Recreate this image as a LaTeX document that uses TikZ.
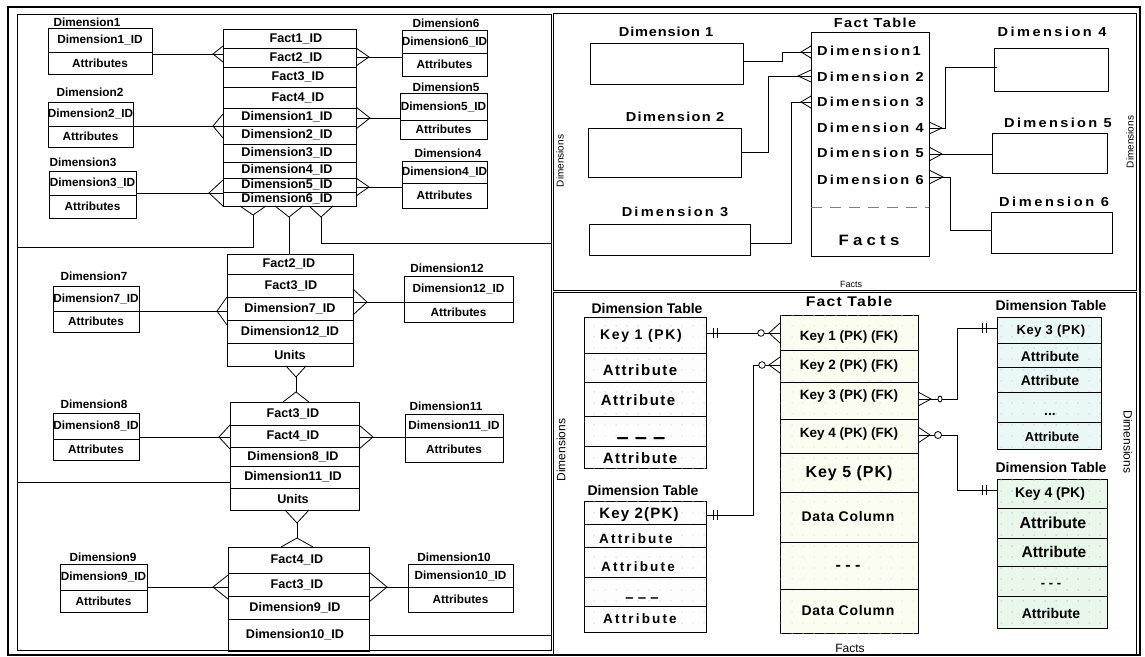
\documentclass[tikz,border=0pt]{standalone}
\usepackage{fontspec}
\setmainfont{Liberation Sans}
\newfontfamily\widesans[FakeStretch=1.12]{Liberation Sans}
\usetikzlibrary{patterns.meta}

% crow's feet: point on the box edge, depth, half spread
\newcommand\crowW[3]{\draw[ln] (#1) ++(0,-#3) -- ++(-#2,#3) -- ++(#2,#3);}
\newcommand\crowE[3]{\draw[ln] (#1) ++(0,-#3) -- ++(#2,#3) -- ++(-#2,#3);}
\newcommand\crowS[3]{\draw[ln] (#1) ++(-#3,0) -- ++(#3,#2) -- ++(#3,-#2);}
\newcommand\crowN[3]{\draw[ln] (#1) ++(-#3,0) -- ++(#3,-#2) -- ++(#3,#2);}
% one-mark: two short bars across a horizontal line
\newcommand\onemark[2]{\draw[ln] (#1,#2-5) -- (#1,#2+5) (#1+4,#2-5) -- (#1+4,#2+5);}

% dimension box of the left panel: name, x1, y1, x2, y2, divider y, key text, title, title position
\newcommand\ldim[9]{%
  \node[box, minimum width={#4-#2}, minimum height={#5-#3}] (#1) at (#2,#3) {};
  \draw[ln] (#1.west |- 0,#6) -- (#1.east |- 0,#6);
  \node[lt] (#1-id) at ({(#2+#4)/2},{(#3+#6)/2}) {#7};
  \node[lt] (#1-at) at ({(#2+#4)/2},{(#6+#5)/2}) {Attributes};
  \node[lt] (#1-t) at (#9) {#8};
}

\definecolor{dimfill}{HTML}{FDFDFD}
\definecolor{dimdot}{HTML}{D6D6D6}
\definecolor{factfill}{HTML}{FCFDF1}
\definecolor{factdot}{HTML}{DDE9B8}
\definecolor{cyanfill}{HTML}{E9F7F6}
\definecolor{cyandot}{HTML}{A9D9CF}
\definecolor{greenfill}{HTML}{E9F6EA}
\definecolor{greendot}{HTML}{93CF98}

\begin{document}
\begin{tikzpicture}[x=1pt,y=-1pt,
  ln/.style={line width=0.8pt},
  box/.style={draw, line width=0.8pt, inner sep=0pt, outer sep=0pt, anchor=north west},
  frame/.style={draw, line width=0.9pt, inner sep=0pt, outer sep=0pt, anchor=north west},
  lt/.style={font=\fontsize{11.8}{13}\selectfont\bfseries, inner sep=0pt},
  ft/.style={font=\fontsize{12.6}{13}\selectfont\bfseries, inner sep=0pt},
  tr/.style={font={\widesans\fontsize{13}{15}\selectfont\bfseries\addfontfeature{LetterSpace=#1}}, inner sep=0pt},
  br/.style={font={\fontsize{14}{16}\selectfont\bfseries\addfontfeature{LetterSpace=#1}}, inner sep=0pt},
  small/.style={font=\fontsize{#1}{#1}\selectfont, inner sep=0pt},
  dotted table/.style 2 args={box, fill=#1, postaction={pattern={Dots[distance=11pt, radius=0.75pt]}, pattern color=#2}},
]
\useasboundingbox (0,0) rectangle (1145,656);

% ---------------- frames ----------------
\draw[line width=2.2pt] (8,7) rectangle (1140,655);
\node[frame, minimum width=534, minimum height=636] (lp) at (17,14) {};
\node[frame, minimum width=583, minimum height=277] (tp) at (553,13) {};
\node[frame, minimum width=583, minimum height=362] (bp) at (553,292) {};

% ================= left panel =================
% --- section 1 ---
\node[box, minimum width=133, minimum height=177] (f1) at (223,29) {};
\foreach \ya/\yb/\xc/\txt [count=\i] in {29/48/296/Fact1\_ID, 48/67/296/Fact2\_ID, 67/87/298/Fact3\_ID, 87/108/298/Fact4\_ID,
    108/126/287/Dimension1\_ID, 126/144/287/Dimension2\_ID, 144/162/287/Dimension3\_ID,
    162/178/287/Dimension4\_ID, 178/192/287/Dimension5\_ID, 192/206/287/Dimension6\_ID} {
  \draw[ln] (f1.west |- 0,\yb) -- (f1.east |- 0,\yb);
  \node[ft] (f1-\i) at (\xc,{(\ya+\yb)/2}) {\txt};
}
\ldim{d1}{48}{28}{152}{74}{52}{Dimension1\_ID}{Dimension1}{87,22}
\ldim{d2}{48}{102}{133}{147}{126}{Dimension2\_ID}{Dimension2}{90,92}
\ldim{d3}{49}{171}{136}{218}{195}{Dimension3\_ID}{Dimension3}{83,162}
\ldim{d6}{402}{30}{487}{76}{53}{Dimension6\_ID}{Dimension6}{446,23}
\ldim{d5}{400}{93}{487}{139}{120}{Dimension5\_ID}{Dimension5}{446,87}
\ldim{d4}{402}{161}{487}{208}{183}{Dimension4\_ID}{Dimension4}{448,153}

\draw[ln] (d1.east |- 0,54) -- (f1.west |- 0,54);   \crowW{f1.west |- 0,54}{10}{8}
\draw[ln] (d2.east |- 0,126) -- (f1.west |- 0,126); \crowW{f1.west |- 0,126}{10}{12}
\draw[ln] (d3.east |- 0,193) -- (f1.west |- 0,193); \crowW{f1.west |- 0,193}{14}{13}
\draw[ln] (f1.east |- 0,57) -- (d6.west |- 0,57);   \crowE{f1.east |- 0,57}{13}{9}
\draw[ln] (f1.east |- 0,118) -- (d5.west |- 0,118); \crowE{f1.east |- 0,118}{14}{11}
\draw[ln] (f1.east |- 0,187) -- (d4.west |- 0,187); \crowE{f1.east |- 0,187}{13}{9}

% links below the first fact table
\crowS{f1.south -| 253,0}{9}{13}
\draw[ln] (253,215) -- (253,247) -- (lp.west |- 0,247);
\crowS{f1.south -| 289,0}{11}{14}
\crowS{f1.south -| 321,0}{11}{12}
\draw[ln] (321,217) -- (321,243) -- (lp.east |- 0,243);

% --- section 2 ---
\node[box, minimum width=126, minimum height=112] (f2) at (227,254) {};
\foreach \ya/\yb/\xc/\txt [count=\i] in {254/274/289/Fact2\_ID, 274/297/291/Fact3\_ID, 297/320/290/Dimension7\_ID,
    320/343/290/Dimension12\_ID, 343/366/290/Units} {
  \draw[ln] (f2.west |- 0,\yb) -- (f2.east |- 0,\yb);
  \node[ft] (f2-\i) at (\xc,{(\ya+\yb)/2}) {\txt};
}
\draw[ln] (289,217) -- (f2.north -| 289,0);
\ldim{d7}{53}{286}{139}{332}{311}{Dimension7\_ID}{Dimension7}{94,276}
\ldim{d12}{404}{276}{513}{322}{302}{Dimension12\_ID}{Dimension12}{447,268}
\draw[ln] (d7.east |- 0,311) -- (f2.west |- 0,311);  \crowW{f2.west |- 0,311}{10}{14}
\draw[ln] (f2.east |- 0,302) -- (d12.west |- 0,302); \crowE{f2.east |- 0,302}{14}{13}

% --- section 3 ---
\node[box, minimum width=129, minimum height=108] (f3) at (230,402) {};
\foreach \ya/\yb/\xc/\txt [count=\i] in {402/425/293/Fact3\_ID, 425/447/293/Fact4\_ID, 447/466/293/Dimension8\_ID,
    466/488/293/Dimension11\_ID, 488/510/293/Units} {
  \draw[ln] (f3.west |- 0,\yb) -- (f3.east |- 0,\yb);
  \node[ft] (f3-\i) at (\xc,{(\ya+\yb)/2}) {\txt};
}
\crowS{f2.south -| 296,0}{11}{10}
\crowN{f3.north -| 296,0}{10}{13}
\draw[ln] (296,377) -- (296,392);
\draw[ln] (lp.west |- 0,482) -- (f3.west |- 0,482);
\ldim{d8}{53}{413}{139}{460}{439}{Dimension8\_ID}{Dimension8}{94,404}
\ldim{d11}{405}{414}{503}{462}{437}{Dimension11\_ID}{Dimension11}{446,406}
\draw[ln] (d8.east |- 0,437) -- (f3.west |- 0,437);  \crowW{f3.west |- 0,437}{11}{12}
\draw[ln] (f3.east |- 0,437) -- (d11.west |- 0,437); \crowE{f3.east |- 0,437}{14}{12}

% --- section 4 ---
\node[box, minimum width=141, minimum height=104] (f4) at (228,547) {};
\foreach \ya/\yb/\xc/\txt [count=\i] in {547/573/297/Fact4\_ID, 573/596/297/Fact3\_ID, 596/619/295/Dimension9\_ID,
    619/651/295/Dimension10\_ID} {
  \draw[ln] (f4.west |- 0,\yb) -- (f4.east |- 0,\yb);
  \node[ft] (f4-\i) at (\xc,{(\ya+\yb)/2}) {\txt};
}
\crowS{f3.south -| 297,0}{13}{12}
\crowN{f4.north -| 297,0}{9}{16}
\draw[ln] (297,523) -- (297,538);
\ldim{d9}{60}{564}{147}{612}{590}{Dimension9\_ID}{Dimension9}{103,557}
\ldim{d10}{408}{564}{513}{612}{587}{Dimension10\_ID}{Dimension10}{454,557}
\draw[ln] (d9.east |- 0,587) -- (f4.west |- 0,587);   \crowW{f4.west |- 0,587}{15}{12}
\draw[ln] (f4.east |- 0,587) -- (d10.west |- 0,587);  \crowE{f4.east |- 0,587}{18}{15}
\draw[ln] (f4.east |- 0,635) -- (lp.east |- 0,635);

% ================= top right panel =================
\node[tr=11] (tft) at (875,23) {Fact Table};
\node[box, minimum width=118, minimum height=224] (tf) at (811,32) {};
\node[tr=18, anchor=west] (tr1) at (817,51) {Dimension1};
\node[tr=17, anchor=west] (tr2) at (817,77) {Dimension 2};
\node[tr=17, anchor=west] (tr3) at (817,102) {Dimension 3};
\node[tr=17, anchor=west] (tr4) at (817,128) {Dimension 4};
\node[tr=17, anchor=west] (tr5) at (817,153) {Dimension 5};
\node[tr=17, anchor=west] (tr6) at (817,180) {Dimension 6};
\draw[gray, line width=0.8pt, dash pattern=on 11pt off 8pt] (tf.west |- 0,207) -- (tf.east |- 0,207);
\node[font={\widesans\fontsize{15}{17}\selectfont\bfseries\addfontfeature{LetterSpace=28}}, inner sep=0pt] (tfacts) at (869,240) {Facts};

\node[tr=6.5] (t1) at (666,32) {Dimension 1};
\node[box, minimum width=153, minimum height=41] (td1) at (590,43) {};
\node[tr=10] (t2) at (675,117) {Dimension 2};
\node[box, minimum width=153, minimum height=49] (td2) at (588,128) {};
\node[tr=17] (t3) at (675,212) {Dimension 3};
\node[box, minimum width=161, minimum height=31] (td3) at (589,224) {};
\node[tr=19] (t4) at (1052,32) {Dimension 4};
\node[box, minimum width=114, minimum height=43] (td4) at (994,48) {};
\node[tr=18] (t5) at (1058,123) {Dimension 5};
\node[box, minimum width=115, minimum height=40] (td5) at (992,133) {};
\node[tr=20] (t6) at (1054,202) {Dimension 6};
\node[box, minimum width=121, minimum height=41] (td6) at (991,212) {};

\draw[ln] (td1.east |- 0,61) -- (782,61) -- (782,52) -- (tf.west |- 0,52);   \crowW{tf.west |- 0,52}{10}{6}
\draw[ln] (td2.east |- 0,152) -- (768,152) -- (768,76) -- (tf.west |- 0,76); \crowW{tf.west |- 0,76}{13}{6}
\draw[ln] (td3.east |- 0,243) -- (791,243) -- (791,102) -- (tf.west |- 0,102); \crowW{tf.west |- 0,102}{10}{6}
\draw[ln] (tf.east |- 0,128) -- (945,128) -- (945,67) -- (997,67);  \crowE{tf.east |- 0,128}{13}{6}
\draw[ln] (tf.east |- 0,154) -- (td5.west |- 0,154);                   \crowE{tf.east |- 0,154}{13}{7}
\draw[ln] (tf.east |- 0,177) -- (950,177) -- (950,230) -- (td6.west |- 0,230); \crowE{tf.east |- 0,177}{14}{7}

\node[small=10, rotate=90] (tdl) at (560,161) {Dimensions};
\node[small=10, rotate=90] (tdr) at (1130,142) {Dimensions};
\node[small=9] (tfl) at (851,284) {Facts};

% ================= bottom right panel =================
\node[br=0] (bl1) at (647,308) {Dimension Table};
\node[dotted table={dimfill}{dimdot}, minimum width=122, minimum height=151] (dt1) at (584,317) {};
\foreach \y in {353,382,416,446} \draw[ln] (dt1.west |- 0,\y) -- (dt1.east |- 0,\y);
\node[br=12] (dt1a) at (641,336) {Key 1 (PK)};
\node[font={\fontsize{15}{16}\selectfont\bfseries\addfontfeature{LetterSpace=10}}, inner sep=0pt] (dt1b) at (640,370) {Attribute};
\node[font={\fontsize{15}{16}\selectfont\bfseries\addfontfeature{LetterSpace=10}}, inner sep=0pt] (dt1c) at (638,400) {Attribute};
\node[font={\fontsize{22}{22}\selectfont\bfseries}, inner sep=0pt, anchor=base] (dt1d) at (641,444) {– – –};
\node[font={\fontsize{15}{16}\selectfont\bfseries\addfontfeature{LetterSpace=10}}, inner sep=0pt] (dt1e) at (640,458) {Attribute};

\node[br=0] (bl2) at (643,490) {Dimension Table};
\node[dotted table={dimfill}{dimdot}, minimum width=122, minimum height=131] (dt2) at (584,501) {};
\foreach \y in {524,547,577,606} \draw[ln] (dt2.west |- 0,\y) -- (dt2.east |- 0,\y);
\node[font={\fontsize{15}{16}\selectfont\bfseries\addfontfeature{LetterSpace=8}}, inner sep=0pt] (dt2a) at (639,515) {Key 2(PK)};
\node[font={\fontsize{13.5}{15}\selectfont\bfseries\addfontfeature{LetterSpace=16}}, inner sep=0pt] (dt2b) at (636,539) {Attribute};
\node[font={\fontsize{13.5}{15}\selectfont\bfseries\addfontfeature{LetterSpace=16}}, inner sep=0pt] (dt2c) at (638,567) {Attribute};
\node[font={\fontsize{15}{15}\selectfont\bfseries}, inner sep=0pt, anchor=base] (dt2d) at (642,602) {– – –};
\node[font={\fontsize{13.5}{15}\selectfont\bfseries\addfontfeature{LetterSpace=16}}, inner sep=0pt] (dt2e) at (640,619) {Attribute};

\node[font={\widesans\fontsize{14}{16}\selectfont\bfseries\addfontfeature{LetterSpace=9}}, inner sep=0pt] (bl3) at (849,301) {Fact Table};
\node[dotted table={factfill}{factdot}, minimum width=138, minimum height=318] (ft) at (780,315) {};
\foreach \y in {350,382,419,453,492,542,589} \draw[ln] (ft.west |- 0,\y) -- (ft.east |- 0,\y);
\node[font={\fontsize{13.5}{15}\selectfont\bfseries}, inner sep=0pt] (ft1) at (849,337) {Key 1 (PK) (FK)};
\node[font={\fontsize{13.5}{15}\selectfont\bfseries}, inner sep=0pt] (ft2) at (849,366) {Key 2 (PK) (FK)};
\node[font={\fontsize{13.5}{15}\selectfont\bfseries}, inner sep=0pt] (ft3) at (849,396) {Key 3 (PK) (FK)};
\node[font={\fontsize{13.5}{15}\selectfont\bfseries}, inner sep=0pt] (ft4) at (849,434) {Key 4 (PK) (FK)};
\node[font={\fontsize{16}{18}\selectfont\bfseries\addfontfeature{LetterSpace=6}}, inner sep=0pt] (ft5) at (849,473) {Key 5 (PK)};
\node[font={\fontsize{14}{16}\selectfont\bfseries\addfontfeature{LetterSpace=5}}, inner sep=0pt] (ft6) at (848,516) {Data Column};
\node[font={\fontsize{16}{16}\selectfont\bfseries}, inner sep=0pt, anchor=base] (ft7) at (848,570) {- - -};
\node[font={\fontsize{14}{16}\selectfont\bfseries\addfontfeature{LetterSpace=5}}, inner sep=0pt] (ft8) at (848,610) {Data Column};

\node[br=0] (bl4) at (1051,305) {Dimension Table};
\node[dotted table={cyanfill}{cyandot}, minimum width=104, minimum height=132] (dt3) at (997,317) {};
\foreach \y in {343,367,392,422} \draw[ln] (dt3.west |- 0,\y) -- (dt3.east |- 0,\y);
\node[font={\fontsize{13}{15}\selectfont\bfseries\addfontfeature{LetterSpace=4}}, inner sep=0pt] (dt3a) at (1051,331) {Key 3 (PK)};
\node[font={\fontsize{14}{15}\selectfont\bfseries}, inner sep=0pt] (dt3b) at (1050,356) {Attribute};
\node[font={\fontsize{14}{15}\selectfont\bfseries}, inner sep=0pt] (dt3c) at (1050,380) {Attribute};
\node[font={\fontsize{14}{15}\selectfont\bfseries}, inner sep=0pt, anchor=base] (dt3d) at (1050,415) {...};
\node[font={\fontsize{13}{15}\selectfont\bfseries}, inner sep=0pt] (dt3e) at (1052,437) {Attribute};

\node[br=0] (bl5) at (1051,467) {Dimension Table};
\node[dotted table={greenfill}{greendot}, minimum width=110, minimum height=149] (dt4) at (997,479) {};
\foreach \y in {508,538,566,596} \draw[ln] (dt4.west |- 0,\y) -- (dt4.east |- 0,\y);
\node[font={\fontsize{14}{15}\selectfont\bfseries}, inner sep=0pt] (dt4a) at (1050,494) {Key 4 (PK)};
\node[font={\fontsize{16}{17}\selectfont\bfseries}, inner sep=0pt] (dt4b) at (1053,523) {Attribute};
\node[font={\fontsize{15.5}{17}\selectfont\bfseries}, inner sep=0pt] (dt4c) at (1054,552) {Attribute};
\node[font={\fontsize{13}{14}\selectfont\bfseries}, inner sep=0pt, anchor=base] (dt4d) at (1051,587) {- - -};
\node[font={\fontsize{14}{15}\selectfont\bfseries}, inner sep=0pt] (dt4e) at (1051,613) {Attribute};

% relationships
\draw[ln] (dt1.east |- 0,333) -- (ft.west |- 0,333);
\onemark{713}{333}
\draw[ln, fill=white] (761,333) circle (3.3);
\crowW{ft.west |- 0,333}{11}{10}

\draw[ln] (dt2.east |- 0,515) -- (753,515) -- (753,365) -- (ft.west |- 0,365);
\onemark{713}{515}
\draw[ln, fill=white] (762,365) circle (3.3);
\crowW{ft.west |- 0,365}{11}{8}

\draw[ln] (ft.east |- 0,399) -- (957,399) -- (957,328) -- (dt3.west |- 0,328);
\crowE{ft.east |- 0,399}{13}{7}
\draw[ln, fill=white] (940,399) ellipse (2 and 3);
\onemark{982}{328}

\draw[ln] (ft.east |- 0,435) -- (957,435) -- (957,490) -- (dt4.west |- 0,490);
\crowE{ft.east |- 0,435}{12}{8}
\draw[ln, fill=white] (938,435) circle (3.5);
\onemark{982}{490}

\node[small=12, rotate=90] (bdl) at (561,450) {Dimensions};
\node[small=12, rotate=-90] (bdr) at (1128,442) {Dimensions};
\node[small=12] (bfl) at (850,648) {Facts};
\end{tikzpicture}
\end{document}
